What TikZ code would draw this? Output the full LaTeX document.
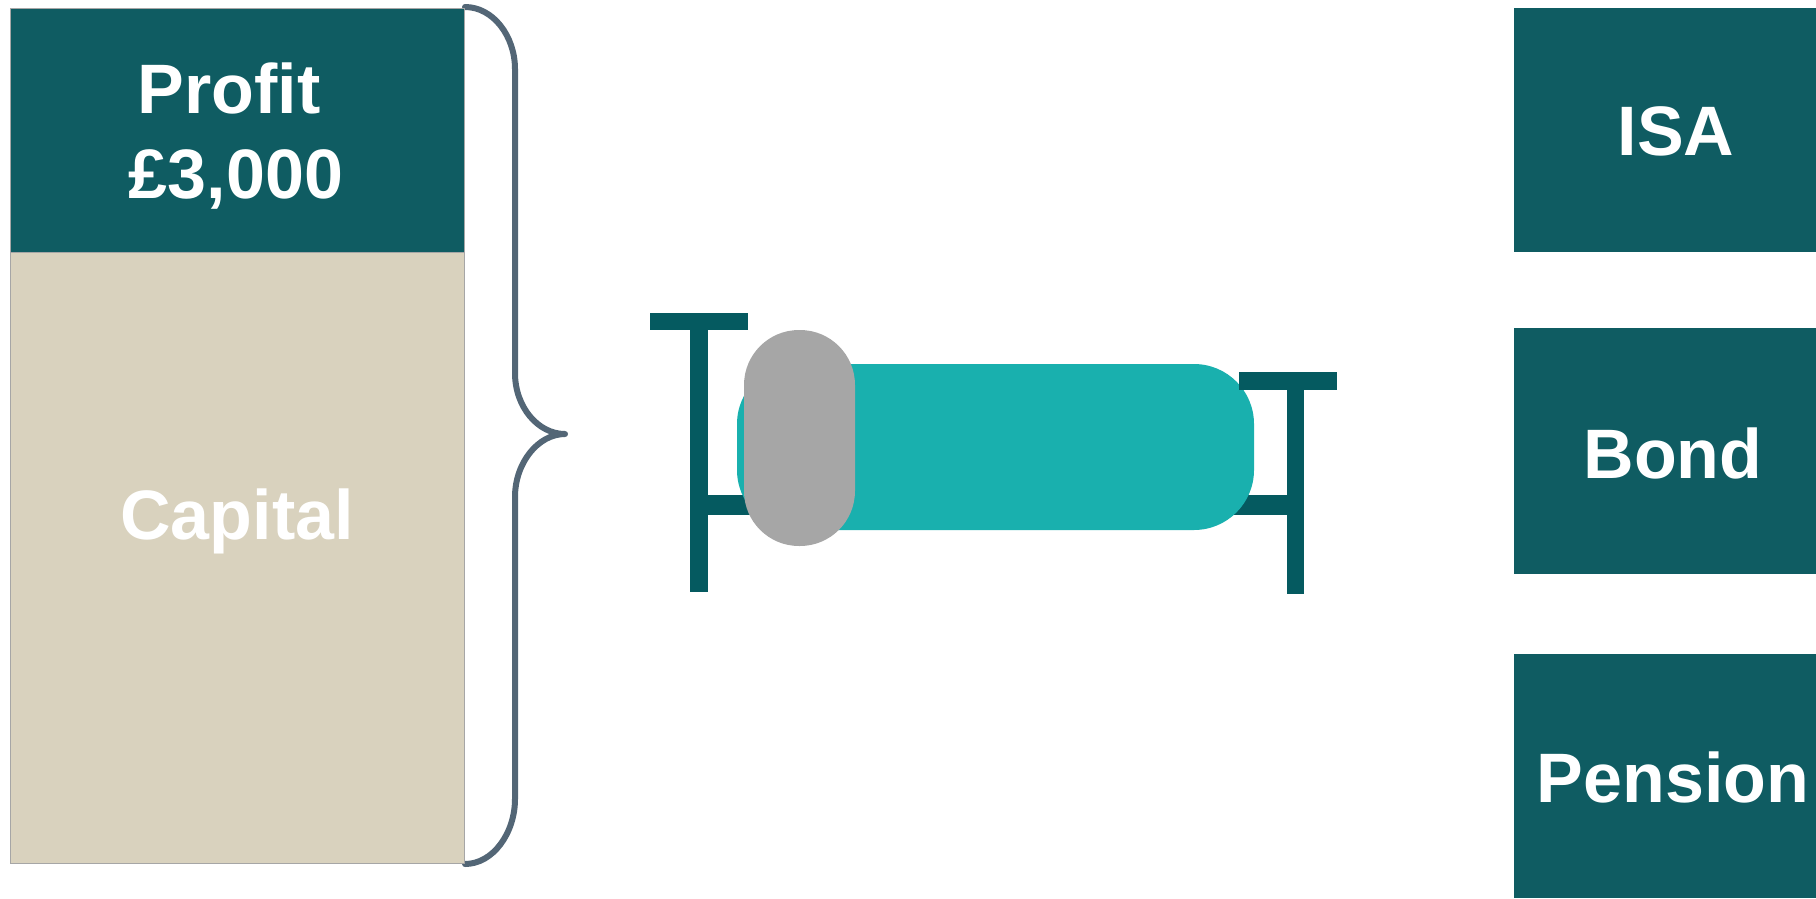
\documentclass[tikz,border=0pt]{standalone}
\usepackage{fontspec}
\setmainfont{Liberation Sans}
\usepackage{xcolor}
\definecolor{potgreen}{RGB}{15,92,98}
\definecolor{bedgreen}{RGB}{5,90,96}
\definecolor{duvet}{RGB}{25,176,174}
\definecolor{pillow}{RGB}{166,166,166}
\definecolor{capitalbg}{RGB}{217,210,190}
\definecolor{bracegrey}{RGB}{83,102,118}

\begin{document}
\begin{tikzpicture}[x=1pt, y=-1pt, every node/.style={inner sep=0pt, outer sep=0pt},
  block/.style={anchor=north west, rectangle},
  pot/.style={block, fill=potgreen, minimum width=302pt},
  frame/.style={block, fill=bedgreen},
  word/.style={font=\fontsize{70}{85}\selectfont\bfseries, color=white, align=center}]
\useasboundingbox (0,0) rectangle (1816,898);
% brace round the stack
\draw[bracegrey, line width=6pt, line join=round, line cap=round]
  (465,7) .. controls (493,7) and (515,36) .. (515,69) -- (515,373)
  .. controls (515,407) and (538,434) .. (565,434)
  .. controls (538,434) and (515,463) .. (515,497) -- (515,799)
  .. controls (515,833) and (493,864) .. (465,864);
% stack
\node[block, fill=potgreen, draw=gray!70, line width=0.5pt, minimum width=454.5pt, minimum height=244pt] (profit) at (10,8) {};
\node[block, fill=capitalbg, draw=gray!70, line width=0.5pt, minimum width=454.5pt, minimum height=611pt] (capital) at (10,252) {};
\node[word] (profittext) at (236,136) {Profit\hspace*{14pt}\\£3,000};
\node[word] (capitaltext) at (237,521) {Capital};
% bed
\node[frame, minimum width=579pt, minimum height=20pt] (rail) at (708,495) {};
\node[block, fill=duvet, rounded corners=60pt, minimum width=517pt, minimum height=166pt] (duvet) at (737,364) {};
\node[frame, minimum width=98pt, minimum height=17pt] (headbar) at (650,313) {};
\node[frame, minimum width=18pt, minimum height=262pt] (headpost) at (690,330) {};
\node[frame, minimum width=98pt, minimum height=18pt] (footbar) at (1239,372) {};
\node[frame, minimum width=17pt, minimum height=204pt] (footpost) at (1287,390) {};
\node[block, fill=pillow, rounded corners=55pt, minimum width=111pt, minimum height=216pt] (pillow) at (744,330) {};
% pots
\node[pot, minimum height=244pt] (isa) at (1514,8) {};
\node[pot, minimum height=246pt] (bond) at (1514,328) {};
\node[pot, minimum height=244pt] (pension) at (1514,654) {};
\node[word] (isatext) at (1676,131) {ISA};
\node[word] (bondtext) at (1673,453) {Bond};
\node[word] (pensiontext) at (1673,777) {Pension};
\end{tikzpicture}
\end{document}
